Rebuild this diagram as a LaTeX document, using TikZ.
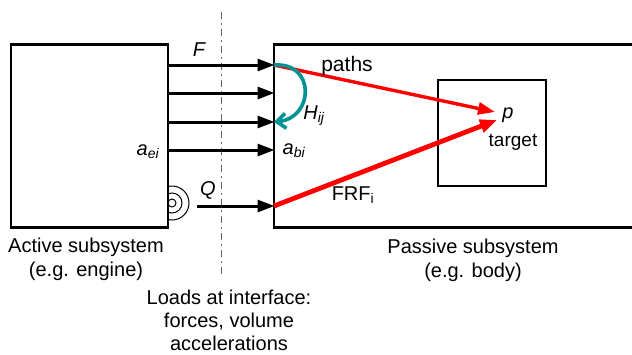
\documentclass[tikz,border=0pt]{standalone}
\usepackage{fontspec}
\setmainfont{Liberation Sans}
\usetikzlibrary{arrows.meta,positioning,calc}

\begin{document}
\begin{tikzpicture}[
    x=1pt, y=-1pt,
    subsystem/.style={draw, rectangle, line width=2.6pt, anchor=north west, inner sep=0pt, outer sep=0pt},
    load/.style={-{Triangle[length=17pt,width=12pt]}, line width=3pt, black, shorten >=-0.5pt},
    path1/.style={-{Triangle[length=17pt,width=12pt]}, line width=3.4pt, red},
    path2/.style={-{Triangle[length=17pt,width=13pt]}, line width=4.8pt, red},
    lbl/.style={font=\fontsize{20}{24}\selectfont, inner sep=0pt, align=center},
    sym/.style={font=\fontsize{20}{24}\selectfont\itshape, inner sep=0pt}
]
    \useasboundingbox (0,0) rectangle (632,354);

    % boxes
    \node[subsystem, minimum width=157pt, minimum height=183pt] (active) at (11,44.5) {};
    \coordinate (pTL) at (274,44.5);
    \coordinate (pTR) at (634,44.5);
    \coordinate (pBL) at (274,227.5);
    \coordinate (pBR) at (634,227.5);
    \draw[line width=2.6pt] (pTR) -- (pTL) -- (pBL) -- (pBR);
    \node[subsystem, minimum width=108pt, minimum height=106pt] (target) at (438,80) {};

    % interface line
    \coordinate (cutTop) at (221,12);
    \coordinate (cutBot) at (221,275);
    \draw[dash pattern=on 7pt off 4pt on 2pt off 4pt, line width=1pt, black!60] (cutTop) -- (cutBot);

    % interface points
    \coordinate (a1) at (168,65);
    \coordinate (a2) at (168,93);
    \coordinate (a3) at (168,122);
    \coordinate (a4) at (168,150);
    \coordinate (b1) at (274,65);
    \coordinate (b2) at (274,93);
    \coordinate (b3) at (274,122);
    \coordinate (b4) at (274,150);
    \coordinate (qs) at (197,206);
    \coordinate (b5) at (274,206);
    \coordinate (p1) at (495,112);
    \coordinate (p2) at (497,120);

    \draw[load] (a1) -- (b1);
    \draw[load] (a2) -- (b2);
    \draw[load] (a3) -- (b3);
    \draw[load] (a4) -- (b4);
    \draw[load] (qs) -- (b5);

    % paths
    \draw[path1] (b1) -- (p1);
    \draw[path2] (b5) -- (p2);

    % coupling
    \draw[-{Straight Barb[length=9pt,width=15pt]}, line width=3.6pt, teal!85!cyan]
        (b1) .. controls (316,62) and (314,118) .. (b3);

    % source
    \coordinate (src) at (172,203);
    \begin{scope}
        \clip (168,180) rectangle (195,226);
        \foreach \r in {4,10,17}
            \draw[line width=1pt] (src) circle[radius=\r pt];
    \end{scope}

    % labels
    \node[sym] (lF) at (199,50) {F};
    \node[sym] (lQ) at (208,190) {Q};
    \node[lbl, font=\fontsize{21}{24}\selectfont] (lpaths) at (347,66) {paths};
    \node[lbl] (lfrf) at (353,195) {FRF\textsubscript{i}};
    \node[sym] (lH) at (314,116) {H\textsubscript{ij}};
    \node[sym] (lae) at (148,152) {a\textsubscript{ei}};
    \node[sym] (lab) at (294,151) {a\textsubscript{bi}};
    \node[sym] (lp) at (508,115) {p};
    \node[lbl, font=\fontsize{19}{22}\selectfont] (ltarget) at (513,142) {target};
    \node[lbl] (lactive) at (86,259) {Active subsystem\\(e.g. engine)};
    \node[lbl] (lpassive) at (473,260) {Passive subsystem\\(e.g. body)};
    \node[lbl, font=\fontsize{20}{23}\selectfont] (lloads) at (229,320) {Loads at interface:\\forces, volume\\accelerations};
\end{tikzpicture}
\end{document}
